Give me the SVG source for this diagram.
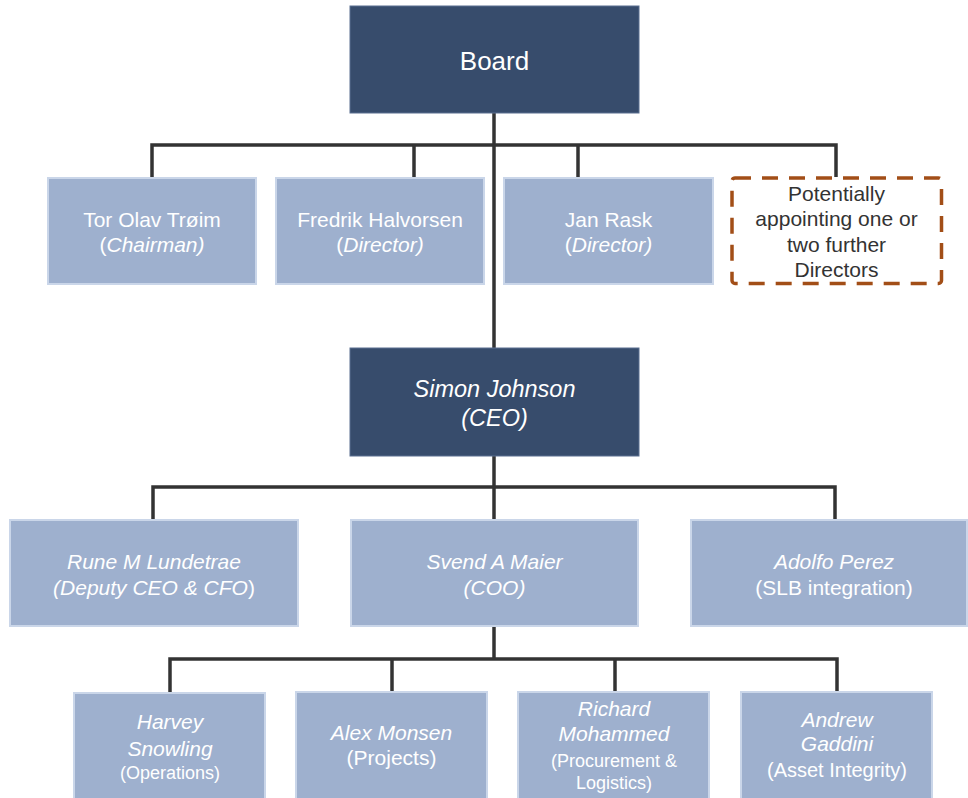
<svg xmlns="http://www.w3.org/2000/svg" width="968" height="798" viewBox="0 0 968 798">
<style>
.dark{fill:#374C6C;stroke:#5A6F90;stroke-width:1}
.light{fill:#9EB0CE;stroke:#CAD6E9;stroke-width:2}
.dash{fill:#FFFFFF;stroke:#A24E17;stroke-width:3.5;stroke-dasharray:16 11}
.conn{fill:none;stroke:#333333;stroke-width:3.5;stroke-linejoin:miter}
text{font-family:"Liberation Sans",Arial,sans-serif;text-anchor:middle;fill:#FFFFFF}
.f21{font-size:21px}
.f18{font-size:18px}
.f20{font-size:20px}
.i{font-style:italic}
.dk{fill:#333333}
</style>
<rect width="968" height="798" fill="#FFFFFF"/>
<g id="connectors">
<path class="conn" d="M494 113 V348"/>
<path class="conn" d="M152 177 V145 H836 V177"/>
<path class="conn" d="M414 145 V177"/>
<path class="conn" d="M578 145 V177"/>
<path class="conn" d="M494 456 V520"/>
<path class="conn" d="M153 520 V487 H835 V520"/>
<path class="conn" d="M494 626 V659"/>
<path class="conn" d="M170 693 V659 H837 V692"/>
<path class="conn" d="M392 659 V692"/>
<path class="conn" d="M615 659 V692"/>
</g>
<g id="board">
<rect class="dark" x="350" y="6" width="289" height="107"/>
<text x="494.5" y="70" font-size="26">Board</text>
</g>
<g id="troim">
<rect class="light" x="48" y="178" width="208" height="106"/>
<text class="f21" x="152" y="227">Tor Olav Trøim</text>
<text class="f21" x="152" y="252">(<tspan class="i">Chairman)</tspan></text>
</g>
<g id="halvorsen">
<rect class="light" x="276" y="178" width="208" height="106"/>
<text class="f21" x="380" y="227">Fredrik Halvorsen</text>
<text class="f21" x="380" y="252">(<tspan class="i">Director)</tspan></text>
</g>
<g id="rask">
<rect class="light" x="504" y="178" width="209" height="106"/>
<text class="f21" x="608.5" y="227">Jan Rask</text>
<text class="f21" x="608.5" y="252">(<tspan class="i">Director)</tspan></text>
</g>
<g id="further">
<rect class="dash" x="732" y="178" width="209.5" height="105.5" rx="3"/>
<text class="f21 dk" x="836.5" y="201">Potentially</text>
<text class="f21 dk" x="836.5" y="226">appointing one or</text>
<text class="f21 dk" x="836.5" y="251.5">two further</text>
<text class="f21 dk" x="836.5" y="277">Directors</text>
</g>
<g id="ceo">
<rect class="dark" x="350" y="348" width="289" height="108"/>
<text class="i" x="494.5" y="397" font-size="23.5">Simon Johnson</text>
<text class="i" x="494.5" y="426" font-size="23.5">(CEO)</text>
</g>
<g id="lundetrae">
<rect class="light" x="10" y="520" width="288" height="106"/>
<text class="f21 i" x="154" y="569">Rune M Lundetrae</text>
<text class="f21" x="154" y="595"><tspan class="i">(Deputy CEO &amp; CFO</tspan>)</text>
</g>
<g id="maier">
<rect class="light" x="351" y="520" width="287" height="106"/>
<text class="f21 i" x="494.5" y="569">Svend A Maier</text>
<text class="f21 i" x="494.5" y="595">(COO)</text>
</g>
<g id="perez">
<rect class="light" x="691" y="520" width="276" height="106"/>
<text class="f21 i" x="834" y="569">Adolfo Perez</text>
<text class="f21" x="834" y="595">(SLB integration)</text>
</g>
<g id="snowling">
<rect class="light" x="74" y="693" width="191" height="106"/>
<text class="f21 i" x="170" y="729">Harvey</text>
<text class="f21 i" x="170" y="756">Snowling</text>
<text class="f18" x="170" y="779">(Operations)</text>
</g>
<g id="monsen">
<rect class="light" x="296" y="692" width="191" height="107"/>
<text class="f21 i" x="391.5" y="740">Alex Monsen</text>
<text class="f21" x="391.5" y="765">(Projects)</text>
</g>
<g id="mohammed">
<rect class="light" x="518" y="692" width="191" height="107"/>
<text class="f21 i" x="614" y="716">Richard</text>
<text class="f21 i" x="614" y="741">Mohammed</text>
<text class="f18" x="614" y="767">(Procurement &amp;</text>
<text class="f18" x="614" y="789">Logistics)</text>
</g>
<g id="gaddini">
<rect class="light" x="741" y="692" width="191" height="107"/>
<text class="f21 i" x="837" y="727">Andrew</text>
<text class="f21 i" x="837" y="751">Gaddini</text>
<text class="f20" x="837" y="777">(Asset Integrity)</text>
</g>
</svg>
